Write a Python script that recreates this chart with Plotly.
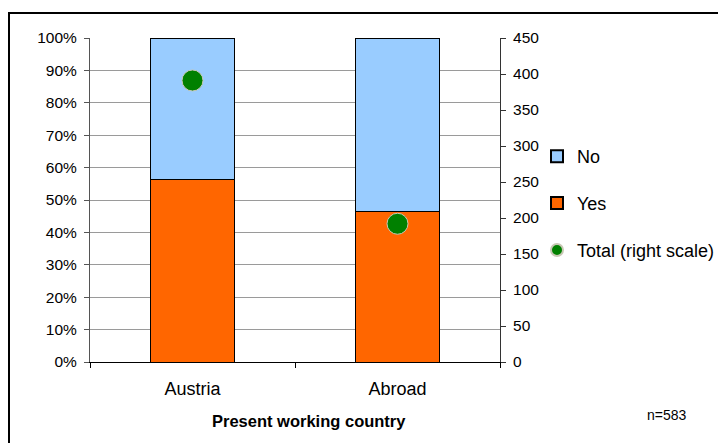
import plotly.graph_objects as go

# Survey results by present working country
countries = ["Austria", "Abroad"]
yes_pct = [56.2, 46.6]
no_pct = [43.8, 53.4]
totals = [391, 192]
n_label = "n=583"

FONT = "Liberation Sans, Arial, sans-serif"
W, H = 718, 443
L, R, T, B = 90, 0, 38, 81
PLOT_RIGHT = 500  # right edge of the bar area in pixels
pw, ph = W - L - R, H - T - B


def px_x(px):
    return (px - L) / pw


def px_y(py):
    return (H - B - py) / ph


fig = go.Figure()
fig.add_trace(go.Bar(
    x=countries, y=yes_pct, name="Yes", legendrank=2, legendgroup="yes",
    marker=dict(color="#FF6600", line=dict(color="#000000", width=1)),
    width=0.405,
))
fig.add_trace(go.Bar(
    x=countries, y=no_pct, name="No", legendrank=1, legendgroup="no",
    marker=dict(color="#99CCFF", line=dict(color="#000000", width=1)),
    width=0.405,
))
fig.add_trace(go.Scatter(
    x=countries, y=totals, name="Total (right scale)", legendrank=3,
    legendgroup="total", mode="markers", yaxis="y2",
    marker=dict(color="#008000", size=21, line=dict(color="#C8C8B4", width=1)),
))

fig.update_layout(
    width=W, height=H,
    margin=dict(l=L, r=R, t=T, b=B, autoexpand=False),
    barmode="stack",
    paper_bgcolor="white", plot_bgcolor="white",
    font=dict(family=FONT, size=15, color="#000000"),
    xaxis=dict(
        type="category", domain=[0, px_x(PLOT_RIGHT)],
        showline=True, linecolor="#000000", linewidth=1,
        ticks="outside", tickson="boundaries", ticklen=5, tickcolor="#000000",
        tickfont=dict(size=18), ticklabelstandoff=10, showgrid=False,
    ),
    yaxis=dict(
        range=[0, 100], dtick=10, ticksuffix="%",
        showline=True, linecolor="#555555", linewidth=1,
        ticks="outside", ticklen=5, tickcolor="#555555",
        tickfont=dict(size=15.5), ticklabelstandoff=4,
        showgrid=True, gridcolor="#9A9A9A", gridwidth=1, zeroline=False,
    ),
    yaxis2=dict(
        overlaying="y", side="right", anchor="x", range=[0, 450], dtick=50,
        showline=True, linecolor="#333333", linewidth=1,
        ticks="outside", ticklen=5, tickcolor="#333333",
        tickfont=dict(size=15.5), ticklabelstandoff=4,
        showgrid=False, zeroline=False,
    ),
    legend=dict(
        x=px_x(537), y=px_y(138), xanchor="left", yanchor="top",
        traceorder="grouped", itemwidth=30,
        font=dict(size=18), tracegroupgap=20.5, itemsizing="constant",
        bgcolor="rgba(0,0,0,0)",
    ),
    annotations=[
        dict(text="<b>Present working country</b>", xref="paper", yref="paper",
             x=px_x(309), y=px_y(421), xanchor="center", yanchor="middle",
             showarrow=False, font=dict(size=16.5)),
        dict(text=n_label, xref="paper", yref="paper",
             x=px_x(667), y=px_y(415), xanchor="center", yanchor="middle",
             showarrow=False, font=dict(size=14)),
    ],
    shapes=[
        dict(type="rect", xref="paper", yref="paper",
             x0=px_x(9), y0=px_y(450), x1=px_x(730), y1=px_y(13),
             line=dict(color="#000000", width=2), fillcolor="rgba(0,0,0,0)",
             layer="above"),
    ],
)

fig.write_html("out.html")
